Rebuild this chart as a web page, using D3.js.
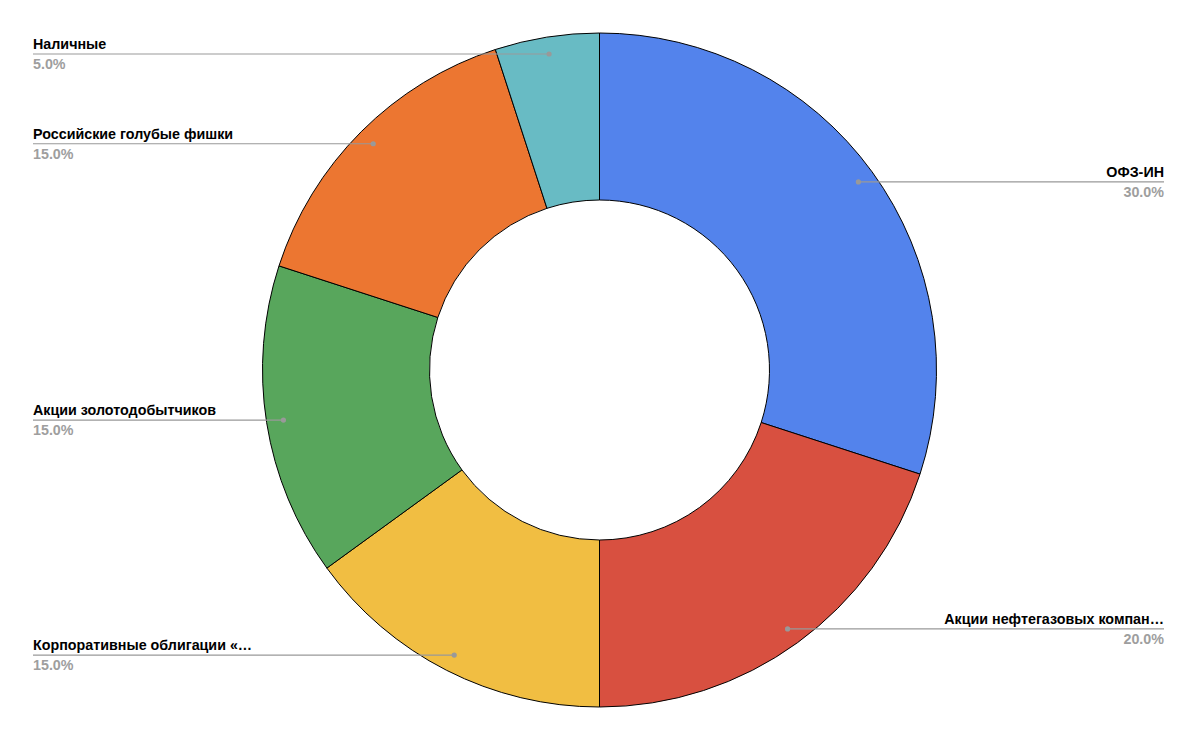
<!DOCTYPE html>
<html><head><meta charset="utf-8">
<script src="https://cdn.jsdelivr.net/npm/d3@7"></script>
<style>body{margin:0;background:#fff}svg{display:block}</style>
</head><body>
<script>
const categories = ["ОФЗ-ИН","Акции нефтегазовых компан…","Корпоративные облигации «…","Акции золотодобытчиков","Российские голубые фишки","Наличные"];
const values = [30,20,15,15,15,5];
const colors = ["#5383EC","#D85040","#F1BE42","#58A65C","#EC7631","#68BBC4"];

const W=1200,H=742, cx=599.5, cy=370, R=337, r0=170, rDot=320;
const svg=d3.select("body").append("svg").attr("width",W).attr("height",H);
const g=svg.append("g").attr("transform",`translate(${cx},${cy})`);
const data=categories.map((c,i)=>({name:c,value:values[i],color:colors[i]}));
const pie=d3.pie().value(d=>d.value).sort(null);
const arc=d3.arc().innerRadius(r0).outerRadius(R);
const arcs=pie(data);
const total=d3.sum(values);
const fmt=d3.format(".1f");
g.selectAll("path").data(arcs).join("path").attr("d",arc)
 .attr("fill",d=>d.data.color).attr("stroke","#000").attr("stroke-width",1);

const minY=-316;
arcs.forEach(a=>{
  const mid=(a.startAngle+a.endAngle)/2;
  let y=-rDot*Math.cos(mid);
  const right=Math.sin(mid)>=0;
  if(y<minY) y=minY;
  let x=Math.sqrt(Math.max(0,rDot*rDot-y*y))*(right?1:-1);
  const ax=cx+x, ay=cy+y;
  const ex= right?1164:33;
  svg.append("line").attr("x1",ax).attr("y1",ay).attr("x2",ex).attr("y2",ay)
    .attr("stroke","#999").attr("stroke-width",1.2);
  svg.append("circle").attr("cx",ax).attr("cy",ay).attr("r",2.6).attr("fill","#999");
  svg.append("text").attr("x",ex).attr("y",ay-5).attr("text-anchor",right?"end":"start")
    .attr("font-family","Liberation Sans, Arial, sans-serif").attr("font-weight","bold")
    .attr("font-size",14.3).attr("fill","#000").text(a.data.name);
  svg.append("text").attr("x",ex).attr("y",ay+15).attr("text-anchor",right?"end":"start")
    .attr("font-family","Liberation Sans, Arial, sans-serif").attr("font-weight","bold")
    .attr("font-size",14.3).attr("fill","#9e9e9e").text(fmt(a.data.value/total*100)+"%");
});
</script>
</body></html>
